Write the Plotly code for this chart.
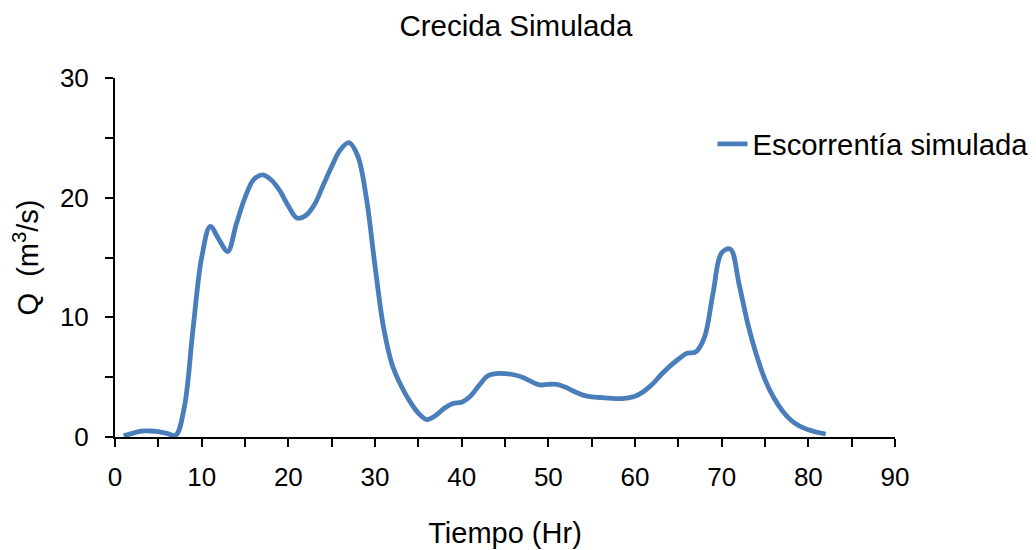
import plotly.graph_objects as go

hours = list(range(1, 83))
flow = [
    0.1, 0.3, 0.5, 0.5, 0.45, 0.3, 0.15, 2.5, 9.0, 15.0,
    17.6, 16.5, 15.5, 17.8, 20.0, 21.5, 21.9, 21.5, 20.6, 19.3,
    18.3, 18.5, 19.4, 21.0, 22.6, 24.0, 24.6, 23.5, 20.0, 14.3,
    9.1, 6.0, 4.3, 3.0, 2.0, 1.45, 1.8, 2.4, 2.8, 2.9,
    3.4, 4.3, 5.1, 5.3, 5.3, 5.2, 5.0, 4.65, 4.35, 4.4,
    4.4, 4.15, 3.8, 3.5, 3.35, 3.3, 3.25, 3.2, 3.25, 3.4,
    3.8, 4.4, 5.2, 5.9, 6.5, 7.0, 7.1, 8.3, 12.0, 15.4,
    15.7, 12.8, 9.5, 6.9, 4.8, 3.3, 2.2, 1.4, 0.9, 0.6,
    0.4, 0.25,
]

series_name = "Escorrentía simulada"
chart_title = "Crecida Simulada"
x_title = "Tiempo (Hr)"
y_title = "Q  (m<sup>3</sup>/s)"
x_ticks = [0, 10, 20, 30, 40, 50, 60, 70, 80, 90]
y_ticks = [0, 10, 20, 30]

FONT = "Liberation Sans, Arial, sans-serif"

fig = go.Figure()
fig.add_trace(go.Scatter(
    x=hours, y=flow, mode="lines", name=series_name,
    line=dict(color="#4A7EBB", width=4.8, shape="spline", smoothing=1.0),
    showlegend=True,
))

def axis_style():
    return dict(
        showline=True, linecolor="black", linewidth=2,
        ticks="outside", ticklen=8, tickwidth=2, tickcolor="black",
        showgrid=False, zeroline=False,
        tickfont=dict(family=FONT, size=26, color="black"),
        minor=dict(dtick=5, tick0=0, ticks="outside", ticklen=8, tickwidth=2,
                   tickcolor="black", showgrid=False),
    )

fig.update_layout(
    width=1036, height=550,
    paper_bgcolor="white", plot_bgcolor="white",
    margin=dict(l=115, r=141, t=78, b=113, autoexpand=False),
    title=dict(text=chart_title, x=0.514, xref="paper", xanchor="center",
               y=0.953, yref="container", yanchor="middle",
               font=dict(family=FONT, size=29.5, color="black")),
    font=dict(family=FONT, color="black"),
    xaxis=dict(range=[0, 90], tickvals=x_ticks, ticklabelstandoff=8,
               title=dict(text=x_title, font=dict(family=FONT, size=29, color="black"), standoff=31),
               **axis_style()),
    yaxis=dict(range=[0, 30], tickvals=y_ticks, ticklabelstandoff=11,
               title=dict(text=y_title, font=dict(family=FONT, size=29, color="black"), standoff=13),
               **axis_style()),
    legend=dict(x=0.766, y=0.815, xanchor="left", yanchor="middle",
                font=dict(family=FONT, size=29.3, color="black"),
                bgcolor="rgba(0,0,0,0)", borderwidth=0),
)

fig.write_html("out.html", config={"displayModeBar": False},
               post_script="document.body.style.margin='0';document.body.style.overflow='hidden';")
